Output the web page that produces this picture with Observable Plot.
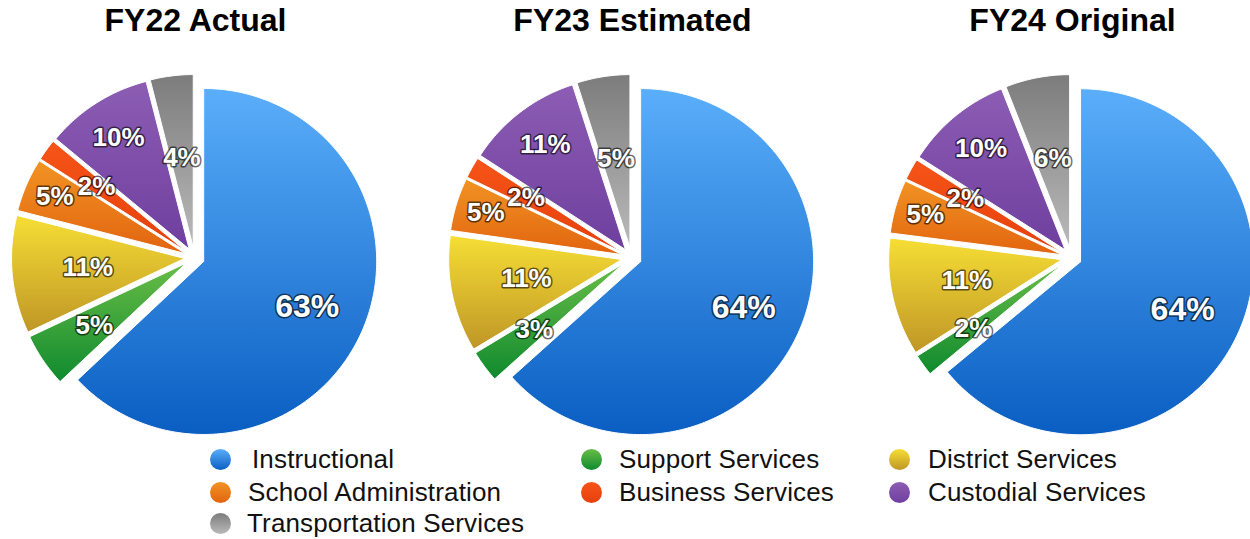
<!DOCTYPE html>
<html><head><meta charset="utf-8">
<script src="https://cdn.jsdelivr.net/npm/d3@7"></script>
<script src="https://cdn.jsdelivr.net/npm/@observablehq/plot@0.6"></script>
<style>
body{margin:0;background:#fff;font-family:"Liberation Sans",Arial,Helvetica,sans-serif;}
#wrap{position:relative;width:1250px;height:539px;overflow:hidden;}
#legend{position:absolute;left:0;top:0;width:1250px;height:539px;pointer-events:none}
.item{position:absolute;font-size:26px;line-height:26px;color:#111;white-space:nowrap;letter-spacing:0.15px}
.sw{position:absolute;width:21px;height:21px;border-radius:50%}
</style></head><body>
<svg width="0" height="0" style="position:absolute"><defs id="defs"></defs></svg>
<div id="wrap"><div id="chart"></div><div id="legend"></div></div>
<script>
// ---- data ----
const years = ["FY22 Actual", "FY23 Estimated", "FY24 Original"];
const categories = ["Instructional", "Support Services", "District Services", "School Administration", "Business Services", "Custodial Services", "Transportation Services"];
const fy22 = [63, 5, 11, 5, 2, 10, 4];
const fy23 = [64, 3, 11, 5, 2, 11, 5];
const fy24 = [64, 2, 11, 5, 2, 10, 6];

// ---- styles ----
const colorTop    = ["#5aaefa", "#69bd47", "#f6de35", "#f19324", "#f65418", "#8c5db3", "#7c7c7c"];
const colorBottom = ["#0a5ec2", "#0f8a2e", "#bf9626", "#e2640f", "#e6400c", "#6f3f9f", "#bababa"];
const labelFrac = [0.71, 0.70, 0.62, 0.88, 0.70, 0.82, 0.58];

// gradients
const defs = document.getElementById("defs");
const NS = "http://www.w3.org/2000/svg";
categories.forEach((c, i) => {
  const g = document.createElementNS(NS, "linearGradient");
  g.setAttribute("id", "g" + i);
  g.setAttribute("x1", "0"); g.setAttribute("y1", "0");
  g.setAttribute("x2", "0"); g.setAttribute("y2", "1");
  [[0, colorTop[i]], [1, colorBottom[i]]].forEach(([o, col]) => {
    const s = document.createElementNS(NS, "stop");
    s.setAttribute("offset", o); s.setAttribute("stop-color", col);
    g.appendChild(s);
  });
  defs.appendChild(g);
});

// ---- layout ----
const W = 1250, H = 440, R = 173, EXPLODE = 10, CY = 257;
const centers = [194, 631, 1071];

const slices = [], labels = [];
[fy22, fy23, fy24].forEach((vals, k) => {
  const arcs = d3.pie().sort(null).value(d => d)(vals);
  arcs.forEach((a, i) => {
    const mid = (a.startAngle + a.endAngle) / 2;
    const ox = centers[k] + EXPLODE * Math.sin(mid);
    const oy = CY - EXPLODE * Math.cos(mid);
    const key = k + "-" + i, cat = categories[i];
    const n = Math.max(2, Math.ceil((a.endAngle - a.startAngle) / (Math.PI / 180)));
    slices.push({key, cat, x: ox, y: oy});
    for (let j = 0; j <= n; j++) {
      const t = a.startAngle + (a.endAngle - a.startAngle) * j / n;
      slices.push({key, cat, x: ox + R * Math.sin(t), y: oy - R * Math.cos(t)});
    }
    slices.push({key, cat, x: ox, y: oy});
    const f = labelFrac[i];
    labels.push({x: centers[k] + f * R * Math.sin(mid), y: CY - f * R * Math.cos(mid), text: vals[i] + "%", big: i === 0});
  });
});
const titles = years.map((t, k) => ({x: centers[k] + 1, y: 20, text: t}));

const labelOpts = {x: "x", y: "y", text: "text", fill: "white", stroke: "black", strokeOpacity: 0.6,
  strokeWidth: 3, paintOrder: "stroke", strokeLinejoin: "round", fontWeight: "bold",
  fontFamily: "Liberation Sans, Arial, sans-serif", ariaLabel: "labels"};

const chart = Plot.plot({
  width: W, height: H, margin: 0,
  x: {domain: [0, W], axis: null},
  y: {domain: [H, 0], axis: null},
  color: {domain: categories, range: categories.map((c, i) => `url(#g${i})`)},
  style: {background: "white", overflow: "visible"},
  marks: [
    Plot.line(slices, {x: "x", y: "y", z: "key", fill: "cat", stroke: "white", strokeWidth: 1, strokeLinejoin: "round"}),
    Plot.text(labels.filter(d => !d.big), {...labelOpts, fontSize: 26}),
    Plot.text(labels.filter(d => d.big), {...labelOpts, fontSize: 32}),
    Plot.text(titles, {x: "x", y: "y", text: "text", fontSize: 32, fontWeight: "bold", fill: "black",
      fontFamily: "Liberation Sans, Arial, sans-serif"})
  ]
});
chart.querySelectorAll('g[aria-label="labels"]').forEach(g => {
  g.style.filter = "drop-shadow(1px 2px 2px rgba(0,0,0,0.85))";
});
document.getElementById("chart").appendChild(chart);

// ---- legend (HTML) ----
const legendLayout = [
  [0, 220, 252, 459], [1, 591, 619, 459], [2, 899, 928, 459],
  [3, 220, 248, 492], [4, 591, 619, 492], [5, 899, 928, 492],
  [6, 220, 247, 523]
];
const legend = document.getElementById("legend");
legendLayout.forEach(([i, cxp, tx, cyp]) => {
  const sw = document.createElement("div");
  sw.className = "sw";
  sw.style.left = (cxp - 10.5) + "px";
  sw.style.top = (cyp - 10.5) + "px";
  sw.style.background = `linear-gradient(to bottom, ${colorTop[i]}, ${colorBottom[i]})`;
  legend.appendChild(sw);
  const t = document.createElement("div");
  t.className = "item";
  t.textContent = categories[i];
  t.style.left = tx + "px";
  t.style.top = (cyp - 13) + "px";
  legend.appendChild(t);
});
</script>
</body></html>
